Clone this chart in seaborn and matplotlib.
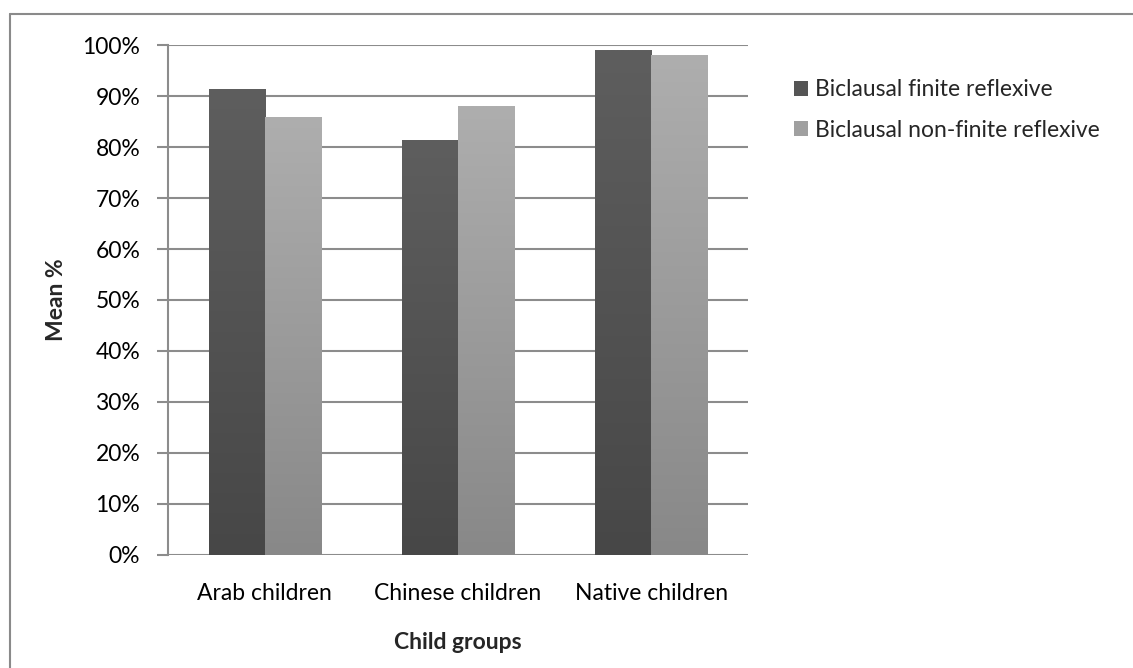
import numpy as np
import pandas as pd
import matplotlib
matplotlib.use("Agg")
import matplotlib.pyplot as plt
import seaborn as sns
from matplotlib.colors import LinearSegmentedColormap
from matplotlib.patches import Rectangle
from matplotlib.ticker import PercentFormatter

groups = ["Arab children", "Chinese children", "Native children"]
series = ["Biclausal finite reflexive", "Biclausal non-finite reflexive"]
finite = [0.914, 0.814, 0.990]
non_finite = [0.859, 0.880, 0.980]

# top / bottom shades of the vertical gradient fill for each series
top_colors = ["#5e5e5e", "#aeaeae"]
bottom_colors = ["#474747", "#888888"]

df = pd.DataFrame({
    "group": groups * 2,
    "series": [series[0]] * 3 + [series[1]] * 3,
    "value": finite + non_finite,
})

sns.set_style("white")
plt.rcParams["font.family"] = ["Lato", "DejaVu Sans"]
FS = 16.5

fig = plt.figure(figsize=(11.33, 6.68), dpi=100)
ax = fig.add_axes([0.1483, 0.1692, 0.6602 - 0.1483, 0.9326 - 0.1692])

sns.barplot(data=df, x="group", y="value", hue="series",
            palette=[bottom_colors[0], bottom_colors[1]],
            width=0.58, gap=0, ax=ax, legend=False, linewidth=0,
            errorbar=None, zorder=3)

# paint each bar with a top-to-bottom gradient clipped to its rectangle
for i, container in enumerate(ax.containers):
    cmap = LinearSegmentedColormap.from_list(f"g{i}", [bottom_colors[i], top_colors[i]])
    for bar in container:
        x0, y0 = bar.get_x(), bar.get_y()
        w, h = bar.get_width(), bar.get_height()
        grad = np.linspace(0, 1, 256).reshape(-1, 1)
        im = ax.imshow(grad, cmap=cmap, origin="lower", aspect="auto",
                       extent=[x0, x0 + w, y0, y0 + h], zorder=3.5)
        im.set_clip_path(bar)
        bar.set_facecolor("none")

ax.set_xlim(-0.5, 2.5)
ax.set_ylim(0, 1.0)

ax.set_yticks(np.arange(0, 1.01, 0.1))
ax.yaxis.set_major_formatter(PercentFormatter(1.0, decimals=0))
ax.grid(axis="y", color="#8c8c8c", linewidth=1.5, zorder=0)
ax.set_axisbelow(True)

for side in ["top", "right", "bottom"]:
    ax.spines[side].set_visible(False)
ax.spines["left"].set_color("#8c8c8c")
ax.spines["left"].set_linewidth(1.5)

ax.tick_params(axis="y", which="major", left=True, length=8, width=1.5,
               color="#8c8c8c", labelsize=FS, pad=12, labelcolor="black")
ax.tick_params(axis="x", bottom=False, labelsize=FS, pad=17, labelcolor="black")

ax.set_xlabel("Child groups", fontsize=FS, fontweight="bold", labelpad=20)
ax.set_ylabel("Mean %", fontsize=FS, fontweight="bold", labelpad=11)

handles = [Rectangle((0, 0), 1, 1, facecolor=c, edgecolor="none") for c in
           ["#555555", "#a0a0a0"]]
leg = fig.legend(handles, series, loc="upper left", bbox_to_anchor=(0.701, 0.881),
                 frameon=False, fontsize=FS, handlelength=0.62, handleheight=0.62,
                 handletextpad=0.3, labelspacing=0.85, borderaxespad=0, borderpad=0)

# outer chart-area frame (top and left edges)
fig.add_artist(plt.Line2D([10 / 1133, 1.0], [1 - 14 / 668, 1 - 14 / 668],
                          transform=fig.transFigure, color="#8a8a8a", linewidth=1.5))
fig.add_artist(plt.Line2D([10 / 1133, 10 / 1133], [0, 1 - 14 / 668],
                          transform=fig.transFigure, color="#8a8a8a", linewidth=1.5))

fig.savefig("out.png", dpi=100)
